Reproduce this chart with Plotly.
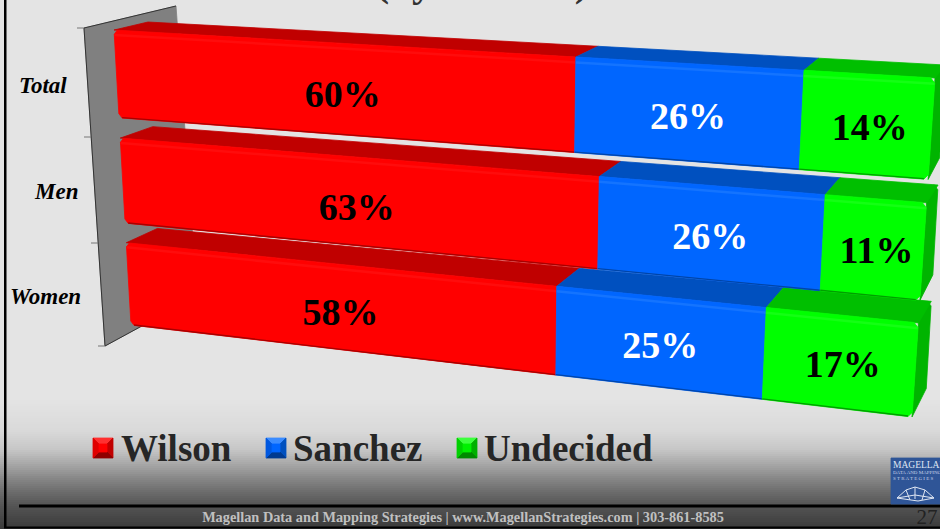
import numpy as np
import plotly.graph_objects as go

# ---------- data ----------
categories = ["Total", "Men", "Women"]
series_names = ["Wilson", "Sanchez", "Undecided"]
wilson = [60, 63, 58]
sanchez = [26, 26, 25]
undecided = [14, 11, 17]
title_text = "(by Gender)"
footer_text = "Magellan Data and Mapping Strategies | www.MagellanStrategies.com | 303-861-8585"
page_number = "27"

# ---------- styles ----------
FRONT = ["#ff0000", "#0066ff", "#00ff00"]
TOP = ["#c00000", "#0050bf", "#00bf00"]
SHINE = ["#ff0c0c", "#1474ff", "#14ff14"]
EDGE = ["#a80000", "#0045a8", "#00a000"]
SIDE = "#00b400"
LABEL = ["#000000", "#ffffff", "#000000"]
LABEL_DX = [7, 2, 4]
LABEL_DY = [9, 6.5, 6]
SERIF = "Liberation Serif"

# ---------- perspective camera: value (0-100) and band position to the page ----------
BAR_T = 0.81
VMAX = 2 + BAR_T
CUT_U, CUT_V = 0.45, 0.04


def homography(corners):
    src = [(0, 0), (100, 0), (100, VMAX), (0, VMAX)]
    A, b = [], []
    for (u, v), (x, y) in zip(src, corners):
        A.append([u, v, 1, 0, 0, 0, -u * x, -v * x]); b.append(x)
        A.append([0, 0, 0, u, v, 1, -u * y, -v * y]); b.append(y)
    h = np.linalg.solve(np.array(A, float), np.array(b, float))
    return np.append(h, 1).reshape(3, 3)


H_FRONT = homography([(114, 30), (935, 78), (912, 417), (131, 325)])
H_BACK = homography([(148, 22), (945, 65), (926, 393), (161, 309)])


def proj(H, u, v):
    p = H @ np.array([u, v, 1.0])
    return p[0] / p[2], p[1] / p[2]


def poly(points):
    xs, ys = zip(*points)
    return list(xs) + [xs[0]], list(ys) + [ys[0]]


fig = go.Figure()


def add_poly(points, color, line=None, width=0.8):
    x, y = poly(points)
    fig.add_trace(go.Scatter(x=x, y=y, mode="lines", fill="toself", fillcolor=color,
                             line=dict(color=line or color, width=width),
                             hoverinfo="skip", showlegend=False))


def add_line(points, color, width=1.0):
    xs, ys = zip(*points)
    fig.add_trace(go.Scatter(x=list(xs), y=list(ys), mode="lines",
                             line=dict(color=color, width=width),
                             hoverinfo="skip", showlegend=False))


def add_text(x, y, text, size, color, pos="middle center", bold=True, italic=False, family=SERIF):
    t = f"<b>{text}</b>" if bold else text
    t = f"<i>{t}</i>" if italic else t
    fig.add_trace(go.Scatter(x=[x], y=[y], mode="text", text=[t], textposition=pos,
                             textfont=dict(size=size, color=color, family=family),
                             hoverinfo="skip", showlegend=False))


# ---------- chart wall ----------
add_poly([(84, 28), (176, 6), (197, 296), (105, 346)], "#808080")
add_line([(84, 28), (176, 6)], "#333333", 1)
add_line([(84, 28), (105, 346)], "#333333", 1)
add_line([(105, 346), (197, 296)], "#333333", 1)
for tx, ty in [(84, 28), (91, 137), (98, 243), (105, 346)]:
    add_line([(tx - 7, ty), (tx, ty)], "#777777", 1)

# ---------- bars, lowest first so upper bars overlap ----------
values = np.array([wilson, sanchez, undecided], float)
for i in reversed(range(len(categories))):
    v0, v1 = float(i), i + BAR_T
    cum = np.concatenate([[0], np.cumsum(values[:, i])])
    # right end face
    add_poly([proj(H_FRONT, cum[-1], v0), proj(H_BACK, cum[-1] - CUT_U, v0), proj(H_BACK, cum[-1], v0 + CUT_V),
              proj(H_BACK, cum[-1], v1 - CUT_V), proj(H_FRONT, cum[-1], v1)], SIDE)
    for s in range(3):
        a, b = cum[s], cum[s + 1]
        add_poly([proj(H_FRONT, a, v0), proj(H_BACK, a, v0),
                  proj(H_BACK, b, v0), proj(H_FRONT, b, v0)], TOP[s])
        face = []
        if s == 0:
            face += [proj(H_FRONT, a, v0 + CUT_V), proj(H_FRONT, a + CUT_U, v0)]
        else:
            face += [proj(H_FRONT, a, v0)]
        if s == 2:
            face += [proj(H_FRONT, b - CUT_U, v0), proj(H_FRONT, b, v0 + CUT_V),
                     proj(H_FRONT, b, v1 - CUT_V), proj(H_FRONT, b - CUT_U, v1)]
        else:
            face += [proj(H_FRONT, b, v0), proj(H_FRONT, b, v1)]
        if s == 0:
            face += [proj(H_FRONT, a + CUT_U, v1), proj(H_FRONT, a, v1 - CUT_V)]
        else:
            face += [proj(H_FRONT, a, v1)]
        add_poly(face, FRONT[s])
        add_line([proj(H_FRONT, a, v0 + 0.045), proj(H_FRONT, b, v0 + 0.045)], SHINE[s], 2.5)
        add_line([proj(H_FRONT, a + (CUT_U if s == 0 else 0), v1 - 0.004),
                  proj(H_FRONT, b - (CUT_U if s == 2 else 0), v1 - 0.004)], EDGE[s], 1.4)

# ---------- value labels ----------
for i in range(len(categories)):
    cum = np.concatenate([[0], np.cumsum(values[:, i])])
    for s in range(3):
        x, y = proj(H_FRONT, (cum[s] + cum[s + 1]) / 2, i + BAR_T / 2)
        add_text(x + LABEL_DX[s], y + LABEL_DY[s], f"{int(values[s, i])}%", 38, LABEL[s])

# ---------- category labels ----------
for name, x, y in zip(categories, [19, 35, 10], [87, 193, 298]):
    add_text(x, y, name, 23, "#000000", pos="middle right", italic=True)

# ---------- legend ----------
LEG_X = [93, 266, 457]
LEG_TXT = [121, 293, 484]
BEVEL = [("#ff3030", "#ff0000", "#e00000", "#c00000", "#900000"),
         ("#3b8cff", "#0066ff", "#0058e0", "#0050bf", "#003a90"),
         ("#3cff3c", "#00f000", "#00d000", "#00b000", "#008a00")]
for name, lx, tx, (c_top, c_mid, c_side, c_right, c_bot) in zip(series_names, LEG_X, LEG_TXT, BEVEL):
    y0, sz, ins = 438, 20, 6
    o = [(lx, y0), (lx + sz, y0), (lx + sz, y0 + sz), (lx, y0 + sz)]
    n = [(lx + ins, y0 + ins), (lx + sz - ins, y0 + ins), (lx + sz - ins, y0 + sz - ins), (lx + ins, y0 + sz - ins)]
    add_poly([o[0], o[1], n[1], n[0]], c_top)
    add_poly([o[1], o[2], n[2], n[1]], c_right)
    add_poly([o[2], o[3], n[3], n[2]], c_bot)
    add_poly([o[3], o[0], n[0], n[3]], c_side)
    add_poly(n, c_mid)
    add_text(tx, 452, name, 37, "#262626", pos="middle right")

# ---------- title fragment, cut by the top of the page ----------
add_text(482, -14, title_text, 41, "#333333")

# ---------- footer ----------
add_line([(19, 506), (940, 506)], "#000000", 3)
add_text(463, 518, footer_text, 14.3, "#c0c0c0")
add_text(927, 519, page_number, 21, "#222222", bold=False)

# ---------- logo ----------
add_poly([(891, 458), (945, 458), (945, 504), (891, 504)], "#2f5597")
add_text(893, 466, "MAGELLAN", 9.5, "#dfe6f3", pos="middle right", bold=False)
add_text(893, 473, "DATA AND MAPPING", 5, "#c6d2e8", pos="middle right", bold=False)
add_text(893, 479, "S T R A T E G I E S", 5, "#c6d2e8", pos="middle right", bold=False)
add_line([(897, 498), (906, 490), (915, 487), (925, 490), (934, 498)], "#dfe6f3", 1)
add_line([(897, 498), (915, 495), (934, 498), (918, 501), (897, 498)], "#dfe6f3", 1)
add_line([(906, 490), (910, 500)], "#dfe6f3", 1)
add_line([(915, 487), (915, 499)], "#dfe6f3", 1)
add_line([(925, 490), (922, 500)], "#dfe6f3", 1)

# ---------- background gradient and frame ----------
grad_y = [0, 400, 430, 450, 470, 480, 490, 505, 510, 529]
grad_v = [228, 228, 218, 198, 155, 132, 112, 86, 80, 58]
shapes = []
prev = 0
for yy in list(range(400, 529, 2)) + [529]:
    g = int(np.interp((prev + yy) / 2, grad_y, grad_v))
    shapes.append(dict(type="rect", xref="x", yref="y", x0=0, x1=940, y0=prev, y1=yy,
                       fillcolor=f"rgb({g},{g},{g})", line=dict(width=0), layer="below"))
    prev = yy
shapes.append(dict(type="rect", xref="x", yref="y", x0=4, x1=6.5, y0=0, y1=528,
                   fillcolor="#000000", line=dict(width=0), layer="below"))
shapes.append(dict(type="rect", xref="x", yref="y", x0=4, x1=940, y0=526.5, y1=528.5,
                   fillcolor="#000000", line=dict(width=0), layer="below"))

fig.update_layout(
    width=940, height=529,
    margin=dict(l=0, r=0, t=0, b=0),
    paper_bgcolor="#e4e4e4", plot_bgcolor="#e4e4e4",
    showlegend=False, shapes=shapes,
    xaxis=dict(range=[0, 940], visible=False, fixedrange=True),
    yaxis=dict(range=[529, 0], visible=False, fixedrange=True),
)
fig.write_html("out.html", config=dict(displayModeBar=False),
               post_script="document.body.style.margin='0';document.body.style.overflow='hidden';")
